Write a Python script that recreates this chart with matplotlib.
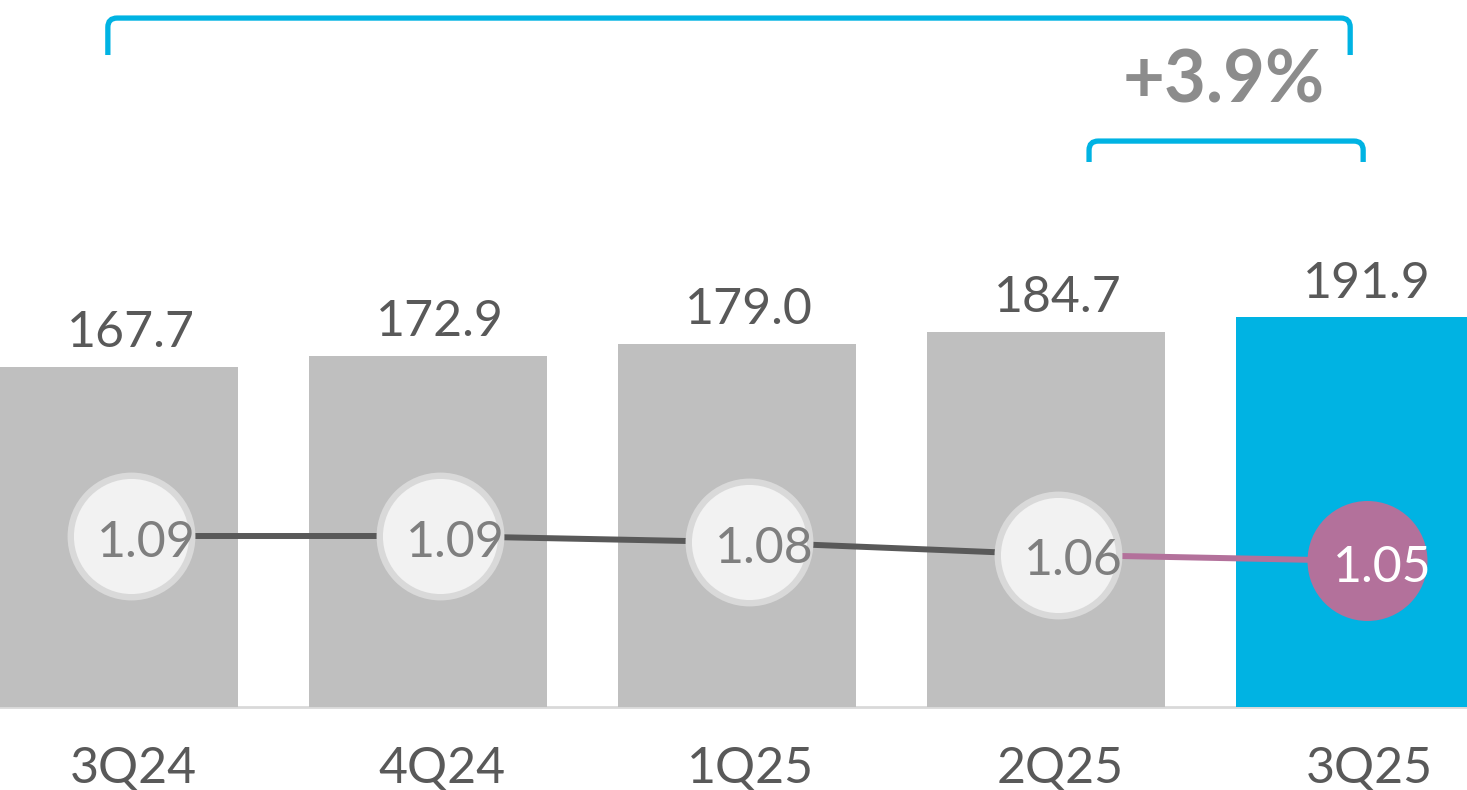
import numpy as np
import matplotlib
matplotlib.use("Agg")
import matplotlib.pyplot as plt
from matplotlib.path import Path
from matplotlib.patches import PathPatch

# Data
quarters = ["3Q24", "4Q24", "1Q25", "2Q25", "3Q25"]
volumes = [167.7, 172.9, 179.0, 184.7, 191.9]
ratios = [1.09, 1.09, 1.08, 1.06, 1.05]
growth_label = "+3.9%"

GRAY_BAR = "#bfbfbf"
CYAN = "#00b3e3"
PURPLE = "#b3719b"
DARK = "#595959"
FONT = ["Lato", "DejaVu Sans"]

fig = plt.figure(figsize=(14.67, 7.90), dpi=100)
ax = fig.add_axes([0, 0, 1, 1])
ax.set_xlim(-0.385, 4.362)
ax.set_ylim(-40.9, 348.3)
ax.axis("off")

x = np.arange(len(quarters))
colors = [GRAY_BAR] * (len(quarters) - 1) + [CYAN]

ax.axhline(0, color="#d9d9d9", lw=2, zorder=1)
ax.bar(x, volumes, width=0.77, color=colors, zorder=2)

for xi, v in zip(x, volumes):
    ax.text(xi + 0.039, v + 9.8, f"{v:.1f}", ha="center", va="baseline",
            fontsize=36, color=DARK, family=FONT, zorder=3)

for xi, q in zip(x, quarters):
    ax.text(xi + 0.045, -37.4, q, ha="center", va="baseline",
            fontsize=36, color=DARK, family=FONT)


def bracket(x0, x1, y_top, y_bot, r_x=0.03, r_y=4.5):
    verts = [(x0, y_bot), (x0, y_top - r_y), (x0, y_top), (x0 + r_x, y_top),
             (x1 - r_x, y_top), (x1, y_top), (x1, y_top - r_y), (x1, y_bot)]
    codes = [Path.MOVETO, Path.LINETO, Path.CURVE3, Path.CURVE3,
             Path.LINETO, Path.CURVE3, Path.CURVE3, Path.LINETO]
    ax.add_patch(PathPatch(Path(verts, codes), fill=False, edgecolor=CYAN,
                           lw=3.8, capstyle="butt", zorder=4))


# brackets (overall span and last-quarter span)
bracket(-0.036, 3.984, 339.4, 321.2)
bracket(3.139, 4.026, 278.8, 268.5)
ax.text(3.576, 298, growth_label, ha="center", va="baseline", fontsize=52,
        fontweight="bold", color="#8c8c8c", family=FONT)

# ratio line on secondary axis
ax2 = ax.twinx()
ax2.set_ylim(0.6836, 1.9476)
ax2.axis("off")

xl = x + 0.04
ax2.plot(xl[:4], ratios[:4], color=DARK, lw=4.3, zorder=1)
ax2.plot(xl[3:], ratios[3:], color=PURPLE, lw=4.3, zorder=1)

ax2.scatter(xl[:4], ratios[:4], s=7650, color="#f2f2f2", edgecolors="#d9d9d9",
            linewidths=4.6, zorder=2)
ax2.scatter(xl[4:], ratios[4:], s=7465, color=PURPLE, edgecolors="none", zorder=2)

for i, (xi, r) in enumerate(zip(x, ratios)):
    last = i == len(ratios) - 1
    ax2.text(xi + 0.088, r - 0.033, f"{r:.2f}", ha="center", va="baseline",
             fontsize=36, color="white" if last else "#7f7f7f", family=FONT,
             zorder=3)

fig.savefig("out.png", dpi=100)
